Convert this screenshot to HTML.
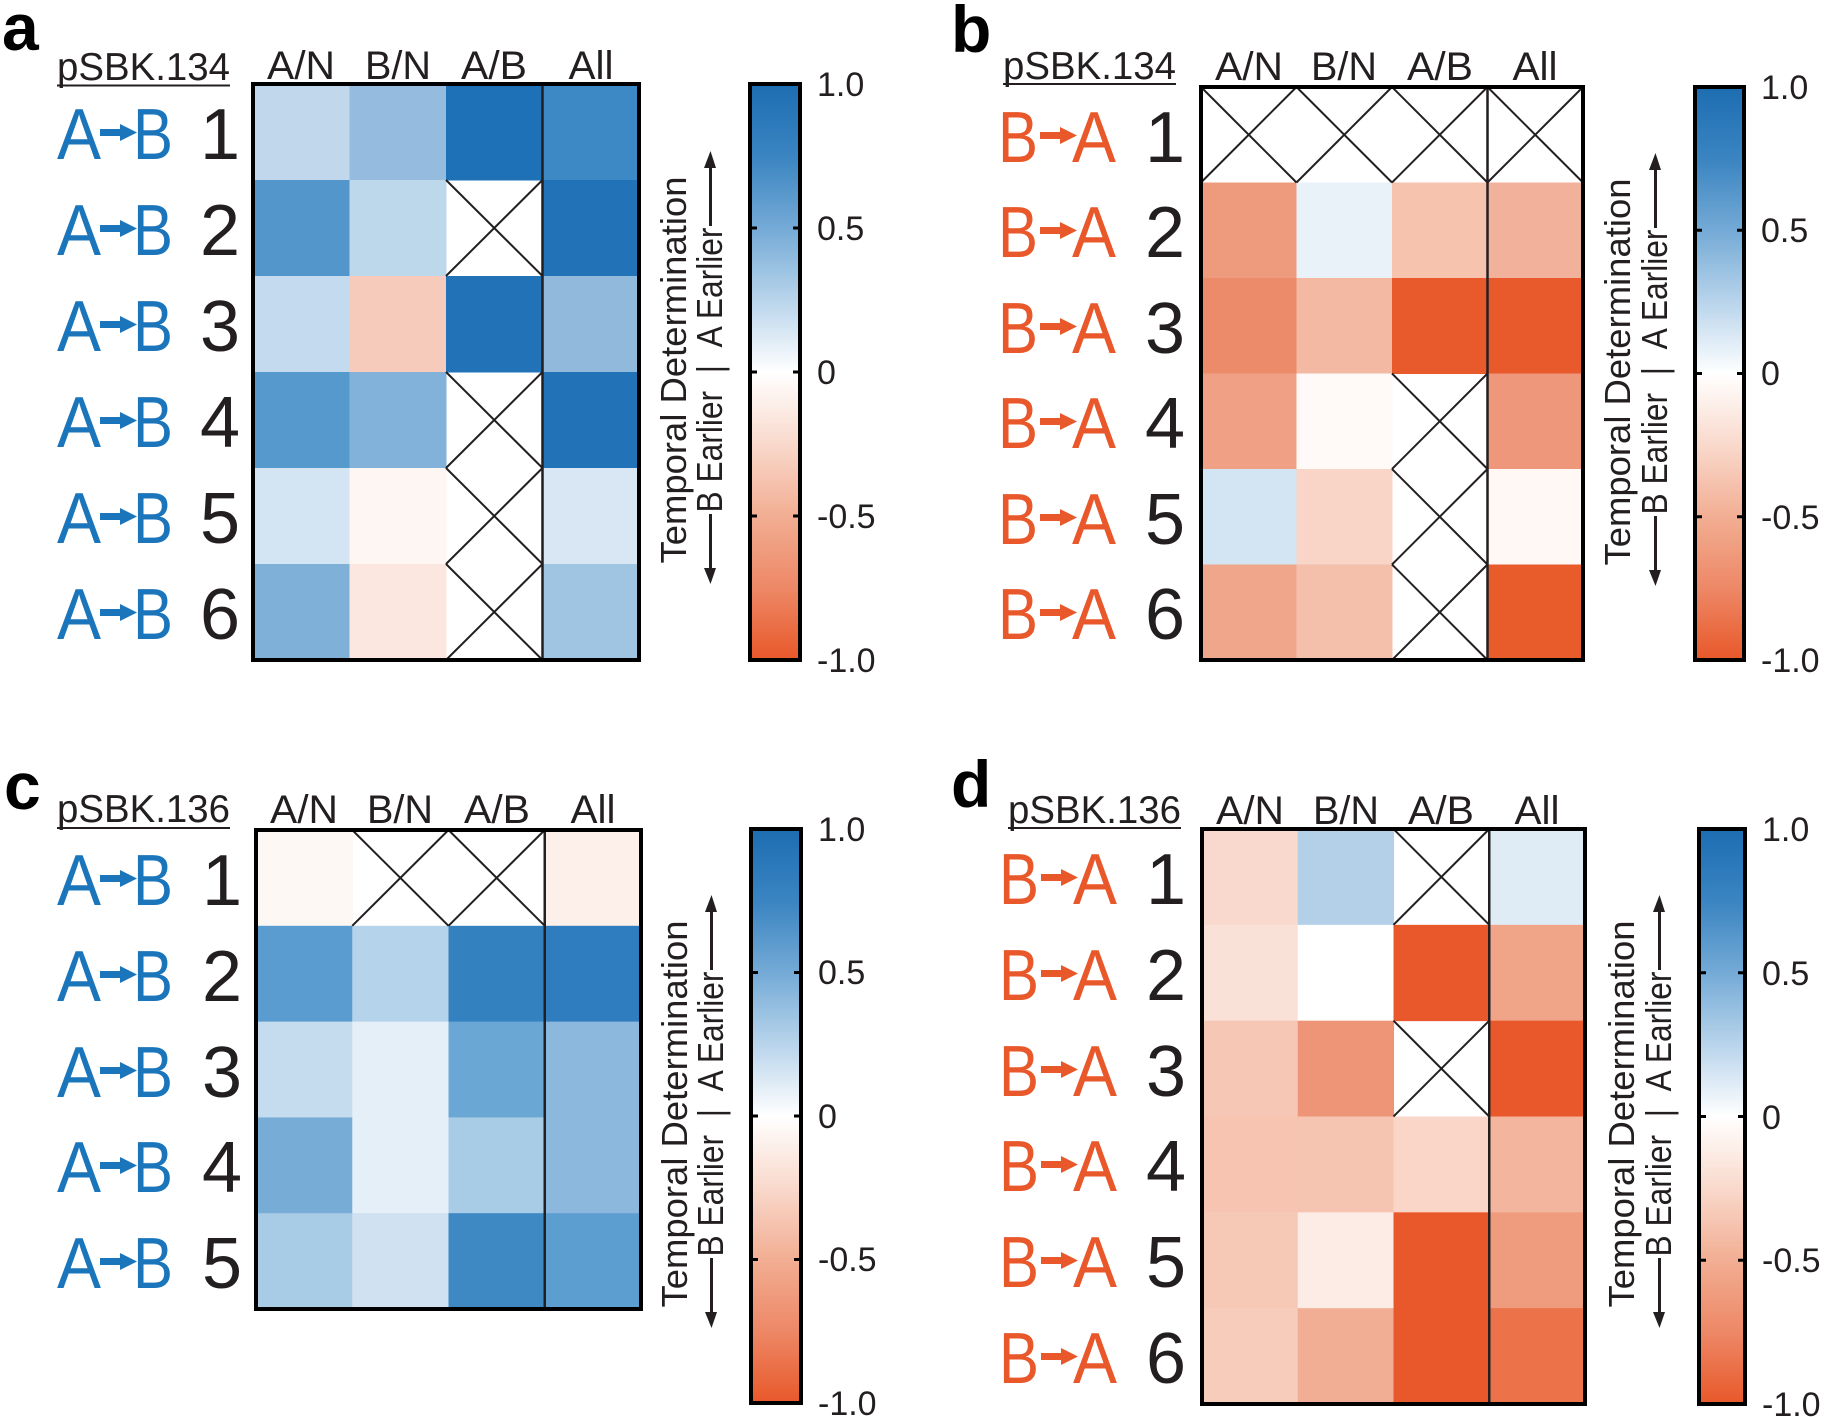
<!DOCTYPE html>
<html><head><meta charset="utf-8"><style>
html,body{margin:0;padding:0;background:#fff;}
svg{display:block;}
text{font-family:"Liberation Sans",Arial,sans-serif;}
</style></head><body>
<svg width="1825" height="1417" viewBox="0 0 1825 1417" xmlns="http://www.w3.org/2000/svg">
<defs>
<linearGradient id="cb" x1="0" y1="0" x2="0" y2="1">
<stop offset="0" stop-color="#1d6db2"/>
<stop offset="0.125" stop-color="#3a84c1"/>
<stop offset="0.25" stop-color="#74aad6"/>
<stop offset="0.375" stop-color="#b8d4eb"/>
<stop offset="0.5" stop-color="#ffffff"/>
<stop offset="0.625" stop-color="#f9d9cc"/>
<stop offset="0.75" stop-color="#f2ae93"/>
<stop offset="0.875" stop-color="#ed8866"/>
<stop offset="1" stop-color="#e8582a"/>
</linearGradient>
</defs>
<rect width="1825" height="1417" fill="#fff"/>

<!-- Panel letters -->
<text x="2" y="50" font-size="66" font-weight="bold" fill="#000">a</text>
<text x="951" y="52" font-size="66" font-weight="bold" fill="#000">b</text>
<text x="4" y="809" font-size="66" font-weight="bold" fill="#000">c</text>
<text x="951" y="807" font-size="66" font-weight="bold" fill="#000">d</text>

<!-- ================= PANEL A ================= -->
<text x="57" y="80" font-size="39" fill="#231f20" textLength="173" lengthAdjust="spacingAndGlyphs">pSBK.134</text>
<rect x="57" y="84.5" width="173" height="2" fill="#231f20"/>
<g font-size="40" fill="#231f20" text-anchor="middle">
<text x="301" y="79" textLength="68" lengthAdjust="spacingAndGlyphs">A/N</text>
<text x="398" y="79" textLength="66" lengthAdjust="spacingAndGlyphs">B/N</text>
<text x="494" y="79" textLength="66" lengthAdjust="spacingAndGlyphs">A/B</text>
<text x="591" y="79" textLength="45" lengthAdjust="spacingAndGlyphs">All</text>
</g>
<g transform="translate(253,84)">
<rect x="0" y="0" width="97" height="96.5" fill="#c1d8ec"/>
<rect x="96.5" y="0" width="97" height="96.5" fill="#95bcde"/>
<rect x="193" y="0" width="97" height="96.5" fill="#1f71b7"/>
<rect x="289.5" y="0" width="97" height="96.5" fill="#3d89c5"/>
<rect x="0" y="96" width="97" height="96.5" fill="#5396cc"/>
<rect x="96.5" y="96" width="97" height="96.5" fill="#bdd7eb"/>
<rect x="289.5" y="96" width="97" height="96.5" fill="#2272b8"/>
<rect x="0" y="192" width="97" height="96.5" fill="#c4daee"/>
<rect x="96.5" y="192" width="97" height="96.5" fill="#f6cbbb"/>
<rect x="193" y="192" width="97" height="96.5" fill="#2272b8"/>
<rect x="289.5" y="192" width="97" height="96.5" fill="#90b9dc"/>
<rect x="0" y="288" width="97" height="96.5" fill="#5699cd"/>
<rect x="96.5" y="288" width="97" height="96.5" fill="#82b2d9"/>
<rect x="289.5" y="288" width="97" height="96.5" fill="#2272b8"/>
<rect x="0" y="384" width="97" height="96.5" fill="#d3e4f2"/>
<rect x="96.5" y="384" width="97" height="96.5" fill="#fdf6f3"/>
<rect x="289.5" y="384" width="97" height="96.5" fill="#d8e7f3"/>
<rect x="0" y="480" width="97" height="96.5" fill="#7fb0d8"/>
<rect x="96.5" y="480" width="97" height="96.5" fill="#fbe7df"/>
<rect x="289.5" y="480" width="97" height="96.5" fill="#a0c5e2"/>
<g stroke="#231f20" stroke-width="2">
<line x1="193" y1="96" x2="289.5" y2="192"/><line x1="289.5" y1="96" x2="193" y2="192"/>
<line x1="193" y1="288" x2="289.5" y2="384"/><line x1="289.5" y1="288" x2="193" y2="384"/>
<line x1="193" y1="384" x2="289.5" y2="480"/><line x1="289.5" y1="384" x2="193" y2="480"/>
<line x1="193" y1="480" x2="289.5" y2="576"/><line x1="289.5" y1="480" x2="193" y2="576"/>
</g>
<line x1="289.5" y1="0" x2="289.5" y2="576" stroke="#231f20" stroke-width="2.5"/>
<rect x="0" y="0" width="386" height="576" fill="none" stroke="#000" stroke-width="4"/>
</g>
<!-- row labels a -->
<g font-size="72">
<g fill="#1b75bb">
<text x="57" y="159" textLength="44" lengthAdjust="spacingAndGlyphs">A</text><rect x="100" y="129" width="24" height="7"/><polygon points="120,124 137,132.5 120,141"/><text x="133" y="159" textLength="40" lengthAdjust="spacingAndGlyphs">B</text>
<text x="57" y="255" textLength="44" lengthAdjust="spacingAndGlyphs">A</text><rect x="100" y="225" width="24" height="7"/><polygon points="120,220 137,228.5 120,237"/><text x="133" y="255" textLength="40" lengthAdjust="spacingAndGlyphs">B</text>
<text x="57" y="351" textLength="44" lengthAdjust="spacingAndGlyphs">A</text><rect x="100" y="321" width="24" height="7"/><polygon points="120,316 137,324.5 120,333"/><text x="133" y="351" textLength="40" lengthAdjust="spacingAndGlyphs">B</text>
<text x="57" y="447" textLength="44" lengthAdjust="spacingAndGlyphs">A</text><rect x="100" y="417" width="24" height="7"/><polygon points="120,412 137,420.5 120,429"/><text x="133" y="447" textLength="40" lengthAdjust="spacingAndGlyphs">B</text>
<text x="57" y="543" textLength="44" lengthAdjust="spacingAndGlyphs">A</text><rect x="100" y="513" width="24" height="7"/><polygon points="120,508 137,516.5 120,525"/><text x="133" y="543" textLength="40" lengthAdjust="spacingAndGlyphs">B</text>
<text x="57" y="639" textLength="44" lengthAdjust="spacingAndGlyphs">A</text><rect x="100" y="609" width="24" height="7"/><polygon points="120,604 137,612.5 120,621"/><text x="133" y="639" textLength="40" lengthAdjust="spacingAndGlyphs">B</text>
</g>
<g fill="#231f20">
<text x="200" y="159">1</text><text x="200" y="255">2</text><text x="200" y="351">3</text>
<text x="200" y="447">4</text><text x="200" y="543">5</text><text x="200" y="639">6</text>
</g>
</g>
<!-- colorbar a -->
<rect x="750" y="84" width="50" height="576" fill="url(#cb)" stroke="#000" stroke-width="4"/>
<g stroke="#000" stroke-width="3">
<line x1="750" y1="228" x2="757" y2="228"/><line x1="793" y1="228" x2="800" y2="228"/>
<line x1="750" y1="372" x2="757" y2="372"/><line x1="793" y1="372" x2="800" y2="372"/>
<line x1="750" y1="516" x2="757" y2="516"/><line x1="793" y1="516" x2="800" y2="516"/>
</g>
<g font-size="34" fill="#231f20">
<text x="817" y="96">1.0</text><text x="817" y="240">0.5</text><text x="817" y="384">0</text>
<text x="817" y="528">-0.5</text><text x="817" y="672">-1.0</text>
</g>
<g fill="#231f20">
<text transform="translate(686,370) rotate(-90)" text-anchor="middle" font-size="36" textLength="387" lengthAdjust="spacingAndGlyphs">Temporal Determination</text>
<text transform="translate(722,370) rotate(-90)" text-anchor="middle" font-size="36" textLength="285" lengthAdjust="spacingAndGlyphs">B Earlier&#160;&#160;|&#160;&#160;A Earlier</text>
<rect x="709" y="514" width="3" height="56"/><polygon points="704,568 716,568 710.5,584"/>
<rect x="709" y="166" width="3" height="60"/><polygon points="704,168 716,168 710.5,151"/>
</g>

<!-- ================= PANEL B ================= -->
<text x="1003" y="79" font-size="39" fill="#231f20" textLength="173" lengthAdjust="spacingAndGlyphs">pSBK.134</text>
<rect x="1003" y="83" width="173" height="2" fill="#231f20"/>
<g font-size="40" fill="#231f20" text-anchor="middle">
<text x="1249" y="80" textLength="68" lengthAdjust="spacingAndGlyphs">A/N</text>
<text x="1344" y="80" textLength="66" lengthAdjust="spacingAndGlyphs">B/N</text>
<text x="1440" y="80" textLength="66" lengthAdjust="spacingAndGlyphs">A/B</text>
<text x="1535" y="80" textLength="45" lengthAdjust="spacingAndGlyphs">All</text>
</g>
<g transform="translate(1201,87)">
<rect x="0" y="95.5" width="96" height="96" fill="#ee9a7d"/>
<rect x="95.5" y="95.5" width="96" height="96" fill="#e9f2f9"/>
<rect x="191" y="95.5" width="96" height="96" fill="#f5c3ae"/>
<rect x="286.5" y="95.5" width="96" height="96" fill="#f2b19a"/>
<rect x="0" y="191" width="96" height="96" fill="#eb8b69"/>
<rect x="95.5" y="191" width="96" height="96" fill="#f3b9a2"/>
<rect x="191" y="191" width="96" height="96" fill="#e85a2b"/>
<rect x="286.5" y="191" width="96" height="96" fill="#e85a2b"/>
<rect x="0" y="286.5" width="96" height="96" fill="#f0a185"/>
<rect x="95.5" y="286.5" width="96" height="96" fill="#fffaf8"/>
<rect x="286.5" y="286.5" width="96" height="96" fill="#ee977a"/>
<rect x="0" y="382" width="96" height="96" fill="#d3e4f2"/>
<rect x="95.5" y="382" width="96" height="96" fill="#f8d5c7"/>
<rect x="286.5" y="382" width="96" height="96" fill="#fff8f5"/>
<rect x="0" y="477.5" width="96" height="96" fill="#f0a68b"/>
<rect x="95.5" y="477.5" width="96" height="96" fill="#f4c0ac"/>
<rect x="286.5" y="477.5" width="96" height="96" fill="#e85b2b"/>
<g stroke="#231f20" stroke-width="2">
<line x1="0" y1="0" x2="95.5" y2="95.5"/><line x1="95.5" y1="0" x2="0" y2="95.5"/>
<line x1="95.5" y1="0" x2="191" y2="95.5"/><line x1="191" y1="0" x2="95.5" y2="95.5"/>
<line x1="191" y1="0" x2="286.5" y2="95.5"/><line x1="286.5" y1="0" x2="191" y2="95.5"/>
<line x1="286.5" y1="0" x2="382" y2="95.5"/><line x1="382" y1="0" x2="286.5" y2="95.5"/>
<line x1="191" y1="286.5" x2="286.5" y2="382"/><line x1="286.5" y1="286.5" x2="191" y2="382"/>
<line x1="191" y1="382" x2="286.5" y2="477.5"/><line x1="286.5" y1="382" x2="191" y2="477.5"/>
<line x1="191" y1="477.5" x2="286.5" y2="573"/><line x1="286.5" y1="477.5" x2="191" y2="573"/>
</g>
<line x1="286.5" y1="0" x2="286.5" y2="573" stroke="#231f20" stroke-width="2.5"/>
<rect x="0" y="0" width="382" height="573" fill="none" stroke="#000" stroke-width="4"/>
</g>
<g font-size="72">
<g fill="#e8582a">
<text x="998" y="162" textLength="40" lengthAdjust="spacingAndGlyphs">B</text><rect x="1040" y="132" width="24" height="7"/><polygon points="1060,127 1077,135.5 1060,144"/><text x="1072" y="162" textLength="44" lengthAdjust="spacingAndGlyphs">A</text>
<text x="998" y="257" textLength="40" lengthAdjust="spacingAndGlyphs">B</text><rect x="1040" y="227" width="24" height="7"/><polygon points="1060,222 1077,230.5 1060,239"/><text x="1072" y="257" textLength="44" lengthAdjust="spacingAndGlyphs">A</text>
<text x="998" y="353" textLength="40" lengthAdjust="spacingAndGlyphs">B</text><rect x="1040" y="323" width="24" height="7"/><polygon points="1060,318 1077,326.5 1060,335"/><text x="1072" y="353" textLength="44" lengthAdjust="spacingAndGlyphs">A</text>
<text x="998" y="448" textLength="40" lengthAdjust="spacingAndGlyphs">B</text><rect x="1040" y="418" width="24" height="7"/><polygon points="1060,413 1077,421.5 1060,430"/><text x="1072" y="448" textLength="44" lengthAdjust="spacingAndGlyphs">A</text>
<text x="998" y="544" textLength="40" lengthAdjust="spacingAndGlyphs">B</text><rect x="1040" y="514" width="24" height="7"/><polygon points="1060,509 1077,517.5 1060,526"/><text x="1072" y="544" textLength="44" lengthAdjust="spacingAndGlyphs">A</text>
<text x="998" y="639" textLength="40" lengthAdjust="spacingAndGlyphs">B</text><rect x="1040" y="609" width="24" height="7"/><polygon points="1060,604 1077,612.5 1060,621"/><text x="1072" y="639" textLength="44" lengthAdjust="spacingAndGlyphs">A</text>
</g>
<g fill="#231f20">
<text x="1145" y="162">1</text><text x="1145" y="257">2</text><text x="1145" y="353">3</text>
<text x="1145" y="448">4</text><text x="1145" y="544">5</text><text x="1145" y="639">6</text>
</g>
</g>
<rect x="1695" y="87" width="49" height="573" fill="url(#cb)" stroke="#000" stroke-width="4"/>
<g stroke="#000" stroke-width="3">
<line x1="1695" y1="230.25" x2="1702" y2="230.25"/><line x1="1737" y1="230.25" x2="1744" y2="230.25"/>
<line x1="1695" y1="373.5" x2="1702" y2="373.5"/><line x1="1737" y1="373.5" x2="1744" y2="373.5"/>
<line x1="1695" y1="516.75" x2="1702" y2="516.75"/><line x1="1737" y1="516.75" x2="1744" y2="516.75"/>
</g>
<g font-size="34" fill="#231f20">
<text x="1761" y="99">1.0</text><text x="1761" y="242">0.5</text><text x="1761" y="385">0</text>
<text x="1761" y="529">-0.5</text><text x="1761" y="672">-1.0</text>
</g>
<g fill="#231f20">
<text transform="translate(1630,372) rotate(-90)" text-anchor="middle" font-size="36" textLength="387" lengthAdjust="spacingAndGlyphs">Temporal Determination</text>
<text transform="translate(1667,372) rotate(-90)" text-anchor="middle" font-size="36" textLength="285" lengthAdjust="spacingAndGlyphs">B Earlier&#160;&#160;|&#160;&#160;A Earlier</text>
<rect x="1654" y="516" width="3" height="56"/><polygon points="1649,570 1661,570 1655.5,586"/>
<rect x="1654" y="168" width="3" height="60"/><polygon points="1649,170 1661,170 1655.5,153"/>
</g>

<!-- ================= PANEL C ================= -->
<text x="57" y="822" font-size="39" fill="#231f20" textLength="173" lengthAdjust="spacingAndGlyphs">pSBK.136</text>
<rect x="57" y="827" width="173" height="2" fill="#231f20"/>
<g font-size="40" fill="#231f20" text-anchor="middle">
<text x="304" y="823" textLength="68" lengthAdjust="spacingAndGlyphs">A/N</text>
<text x="400" y="823" textLength="66" lengthAdjust="spacingAndGlyphs">B/N</text>
<text x="497" y="823" textLength="66" lengthAdjust="spacingAndGlyphs">A/B</text>
<text x="593" y="823" textLength="45" lengthAdjust="spacingAndGlyphs">All</text>
</g>
<g transform="translate(256,830)">
<rect x="0" y="0" width="97" height="96.3" fill="#fef8f4"/>
<rect x="288.75" y="0" width="97" height="96.3" fill="#fdefe9"/>
<rect x="0" y="95.8" width="97" height="96.3" fill="#5a9ccf"/>
<rect x="96.25" y="95.8" width="97" height="96.3" fill="#b5d3ea"/>
<rect x="192.5" y="95.8" width="97" height="96.3" fill="#3481c0"/>
<rect x="288.75" y="95.8" width="97" height="96.3" fill="#2f7dbe"/>
<rect x="0" y="191.6" width="97" height="96.3" fill="#c4dcee"/>
<rect x="96.25" y="191.6" width="97" height="96.3" fill="#e4eff8"/>
<rect x="192.5" y="191.6" width="97" height="96.3" fill="#6ba7d4"/>
<rect x="288.75" y="191.6" width="97" height="96.3" fill="#8cb8dd"/>
<rect x="0" y="287.4" width="97" height="96.3" fill="#77acd6"/>
<rect x="96.25" y="287.4" width="97" height="96.3" fill="#e4eff8"/>
<rect x="192.5" y="287.4" width="97" height="96.3" fill="#a8cbe6"/>
<rect x="288.75" y="287.4" width="97" height="96.3" fill="#8cb8dd"/>
<rect x="0" y="383.2" width="97" height="96.3" fill="#a8cbe6"/>
<rect x="96.25" y="383.2" width="97" height="96.3" fill="#d0e2f1"/>
<rect x="192.5" y="383.2" width="97" height="96.3" fill="#3e88c4"/>
<rect x="288.75" y="383.2" width="97" height="96.3" fill="#5d9ed0"/>
<g stroke="#231f20" stroke-width="2">
<line x1="96.25" y1="0" x2="192.5" y2="95.8"/><line x1="192.5" y1="0" x2="96.25" y2="95.8"/>
<line x1="192.5" y1="0" x2="288.75" y2="95.8"/><line x1="288.75" y1="0" x2="192.5" y2="95.8"/>
</g>
<line x1="288.75" y1="0" x2="288.75" y2="479" stroke="#231f20" stroke-width="2.5"/>
<rect x="0" y="0" width="385" height="479" fill="none" stroke="#000" stroke-width="4"/>
</g>
<g font-size="72">
<g fill="#1b75bb">
<text x="57" y="905" textLength="44" lengthAdjust="spacingAndGlyphs">A</text><rect x="100" y="875" width="24" height="7"/><polygon points="120,870 137,878.5 120,887"/><text x="133" y="905" textLength="40" lengthAdjust="spacingAndGlyphs">B</text>
<text x="57" y="1001" textLength="44" lengthAdjust="spacingAndGlyphs">A</text><rect x="100" y="971" width="24" height="7"/><polygon points="120,966 137,974.5 120,983"/><text x="133" y="1001" textLength="40" lengthAdjust="spacingAndGlyphs">B</text>
<text x="57" y="1097" textLength="44" lengthAdjust="spacingAndGlyphs">A</text><rect x="100" y="1067" width="24" height="7"/><polygon points="120,1062 137,1070.5 120,1079"/><text x="133" y="1097" textLength="40" lengthAdjust="spacingAndGlyphs">B</text>
<text x="57" y="1192" textLength="44" lengthAdjust="spacingAndGlyphs">A</text><rect x="100" y="1162" width="24" height="7"/><polygon points="120,1157 137,1165.5 120,1174"/><text x="133" y="1192" textLength="40" lengthAdjust="spacingAndGlyphs">B</text>
<text x="57" y="1288" textLength="44" lengthAdjust="spacingAndGlyphs">A</text><rect x="100" y="1258" width="24" height="7"/><polygon points="120,1253 137,1261.5 120,1270"/><text x="133" y="1288" textLength="40" lengthAdjust="spacingAndGlyphs">B</text>
</g>
<g fill="#231f20">
<text x="202" y="905">1</text><text x="202" y="1001">2</text><text x="202" y="1097">3</text>
<text x="202" y="1192">4</text><text x="202" y="1288">5</text>
</g>
</g>
<rect x="751" y="829" width="50" height="574" fill="url(#cb)" stroke="#000" stroke-width="4"/>
<g stroke="#000" stroke-width="3">
<line x1="751" y1="972.5" x2="758" y2="972.5"/><line x1="794" y1="972.5" x2="801" y2="972.5"/>
<line x1="751" y1="1116" x2="758" y2="1116"/><line x1="794" y1="1116" x2="801" y2="1116"/>
<line x1="751" y1="1259.5" x2="758" y2="1259.5"/><line x1="794" y1="1259.5" x2="801" y2="1259.5"/>
</g>
<g font-size="34" fill="#231f20">
<text x="818" y="841">1.0</text><text x="818" y="984">0.5</text><text x="818" y="1128">0</text>
<text x="818" y="1271">-0.5</text><text x="818" y="1415">-1.0</text>
</g>
<g fill="#231f20">
<text transform="translate(687,1114) rotate(-90)" text-anchor="middle" font-size="36" textLength="387" lengthAdjust="spacingAndGlyphs">Temporal Determination</text>
<text transform="translate(723,1114) rotate(-90)" text-anchor="middle" font-size="36" textLength="285" lengthAdjust="spacingAndGlyphs">B Earlier&#160;&#160;|&#160;&#160;A Earlier</text>
<rect x="710" y="1258" width="3" height="56"/><polygon points="705,1312 717,1312 711.5,1328"/>
<rect x="710" y="910" width="3" height="60"/><polygon points="705,912 717,912 711.5,895"/>
</g>

<!-- ================= PANEL D ================= -->
<text x="1008" y="823" font-size="39" fill="#231f20" textLength="173" lengthAdjust="spacingAndGlyphs">pSBK.136</text>
<rect x="1008" y="827" width="173" height="2" fill="#231f20"/>
<g font-size="40" fill="#231f20" text-anchor="middle">
<text x="1250" y="824" textLength="68" lengthAdjust="spacingAndGlyphs">A/N</text>
<text x="1346" y="824" textLength="66" lengthAdjust="spacingAndGlyphs">B/N</text>
<text x="1441" y="824" textLength="66" lengthAdjust="spacingAndGlyphs">A/B</text>
<text x="1537" y="824" textLength="45" lengthAdjust="spacingAndGlyphs">All</text>
</g>
<g transform="translate(1202,829)">
<rect x="0" y="0" width="96.3" height="96.3" fill="#f9d9cd"/>
<rect x="95.75" y="0" width="96.3" height="96.3" fill="#b4d0e8"/>
<rect x="287.25" y="0" width="96.3" height="96.3" fill="#dfecf6"/>
<rect x="0" y="95.83" width="96.3" height="96.3" fill="#fae1d7"/>
<rect x="95.75" y="95.83" width="96.3" height="96.3" fill="#ffffff"/>
<rect x="191.5" y="95.83" width="96.3" height="96.3" fill="#e8582a"/>
<rect x="287.25" y="95.83" width="96.3" height="96.3" fill="#f0a488"/>
<rect x="0" y="191.67" width="96.3" height="96.3" fill="#f6c7b4"/>
<rect x="95.75" y="191.67" width="96.3" height="96.3" fill="#ee9577"/>
<rect x="287.25" y="191.67" width="96.3" height="96.3" fill="#e8582a"/>
<rect x="0" y="287.5" width="96.3" height="96.3" fill="#f6c4b1"/>
<rect x="95.75" y="287.5" width="96.3" height="96.3" fill="#f6c5b2"/>
<rect x="191.5" y="287.5" width="96.3" height="96.3" fill="#f9d6c8"/>
<rect x="287.25" y="287.5" width="96.3" height="96.3" fill="#f3b59d"/>
<rect x="0" y="383.33" width="96.3" height="96.3" fill="#f6c9b7"/>
<rect x="95.75" y="383.33" width="96.3" height="96.3" fill="#fdece5"/>
<rect x="191.5" y="383.33" width="96.3" height="96.3" fill="#e8582a"/>
<rect x="287.25" y="383.33" width="96.3" height="96.3" fill="#ef9b7e"/>
<rect x="0" y="479.17" width="96.3" height="96.3" fill="#f7ccba"/>
<rect x="95.75" y="479.17" width="96.3" height="96.3" fill="#f2ae94"/>
<rect x="191.5" y="479.17" width="96.3" height="96.3" fill="#e8582a"/>
<rect x="287.25" y="479.17" width="96.3" height="96.3" fill="#eb7249"/>
<g stroke="#231f20" stroke-width="2">
<line x1="191.5" y1="0" x2="287.25" y2="95.83"/><line x1="287.25" y1="0" x2="191.5" y2="95.83"/>
<line x1="191.5" y1="191.67" x2="287.25" y2="287.5"/><line x1="287.25" y1="191.67" x2="191.5" y2="287.5"/>
</g>
<line x1="287.25" y1="0" x2="287.25" y2="575" stroke="#231f20" stroke-width="2.5"/>
<rect x="0" y="0" width="383" height="575" fill="none" stroke="#000" stroke-width="4"/>
</g>
<g font-size="72">
<g fill="#e8582a">
<text x="999" y="904" textLength="40" lengthAdjust="spacingAndGlyphs">B</text><rect x="1041" y="874" width="24" height="7"/><polygon points="1061,869 1078,877.5 1061,886"/><text x="1073" y="904" textLength="44" lengthAdjust="spacingAndGlyphs">A</text>
<text x="999" y="1000" textLength="40" lengthAdjust="spacingAndGlyphs">B</text><rect x="1041" y="970" width="24" height="7"/><polygon points="1061,965 1078,973.5 1061,982"/><text x="1073" y="1000" textLength="44" lengthAdjust="spacingAndGlyphs">A</text>
<text x="999" y="1096" textLength="40" lengthAdjust="spacingAndGlyphs">B</text><rect x="1041" y="1066" width="24" height="7"/><polygon points="1061,1061 1078,1069.5 1061,1078"/><text x="1073" y="1096" textLength="44" lengthAdjust="spacingAndGlyphs">A</text>
<text x="999" y="1191" textLength="40" lengthAdjust="spacingAndGlyphs">B</text><rect x="1041" y="1161" width="24" height="7"/><polygon points="1061,1156 1078,1164.5 1061,1173"/><text x="1073" y="1191" textLength="44" lengthAdjust="spacingAndGlyphs">A</text>
<text x="999" y="1287" textLength="40" lengthAdjust="spacingAndGlyphs">B</text><rect x="1041" y="1257" width="24" height="7"/><polygon points="1061,1252 1078,1260.5 1061,1269"/><text x="1073" y="1287" textLength="44" lengthAdjust="spacingAndGlyphs">A</text>
<text x="999" y="1383" textLength="40" lengthAdjust="spacingAndGlyphs">B</text><rect x="1041" y="1353" width="24" height="7"/><polygon points="1061,1348 1078,1356.5 1061,1365"/><text x="1073" y="1383" textLength="44" lengthAdjust="spacingAndGlyphs">A</text>
</g>
<g fill="#231f20">
<text x="1146" y="904">1</text><text x="1146" y="1000">2</text><text x="1146" y="1096">3</text>
<text x="1146" y="1191">4</text><text x="1146" y="1287">5</text><text x="1146" y="1383">6</text>
</g>
</g>
<rect x="1699" y="829" width="46" height="575" fill="url(#cb)" stroke="#000" stroke-width="4"/>
<g stroke="#000" stroke-width="3">
<line x1="1699" y1="972.75" x2="1706" y2="972.75"/><line x1="1738" y1="972.75" x2="1745" y2="972.75"/>
<line x1="1699" y1="1116.5" x2="1706" y2="1116.5"/><line x1="1738" y1="1116.5" x2="1745" y2="1116.5"/>
<line x1="1699" y1="1260.25" x2="1706" y2="1260.25"/><line x1="1738" y1="1260.25" x2="1745" y2="1260.25"/>
</g>
<g font-size="34" fill="#231f20">
<text x="1762" y="841">1.0</text><text x="1762" y="985">0.5</text><text x="1762" y="1129">0</text>
<text x="1762" y="1272">-0.5</text><text x="1762" y="1416">-1.0</text>
</g>
<g fill="#231f20">
<text transform="translate(1634,1114) rotate(-90)" text-anchor="middle" font-size="36" textLength="387" lengthAdjust="spacingAndGlyphs">Temporal Determination</text>
<text transform="translate(1671,1114) rotate(-90)" text-anchor="middle" font-size="36" textLength="285" lengthAdjust="spacingAndGlyphs">B Earlier&#160;&#160;|&#160;&#160;A Earlier</text>
<rect x="1658" y="1258" width="3" height="56"/><polygon points="1653,1312 1665,1312 1659.5,1328"/>
<rect x="1658" y="910" width="3" height="60"/><polygon points="1653,912 1665,912 1659.5,895"/>
</g>
</svg>
</body></html>
